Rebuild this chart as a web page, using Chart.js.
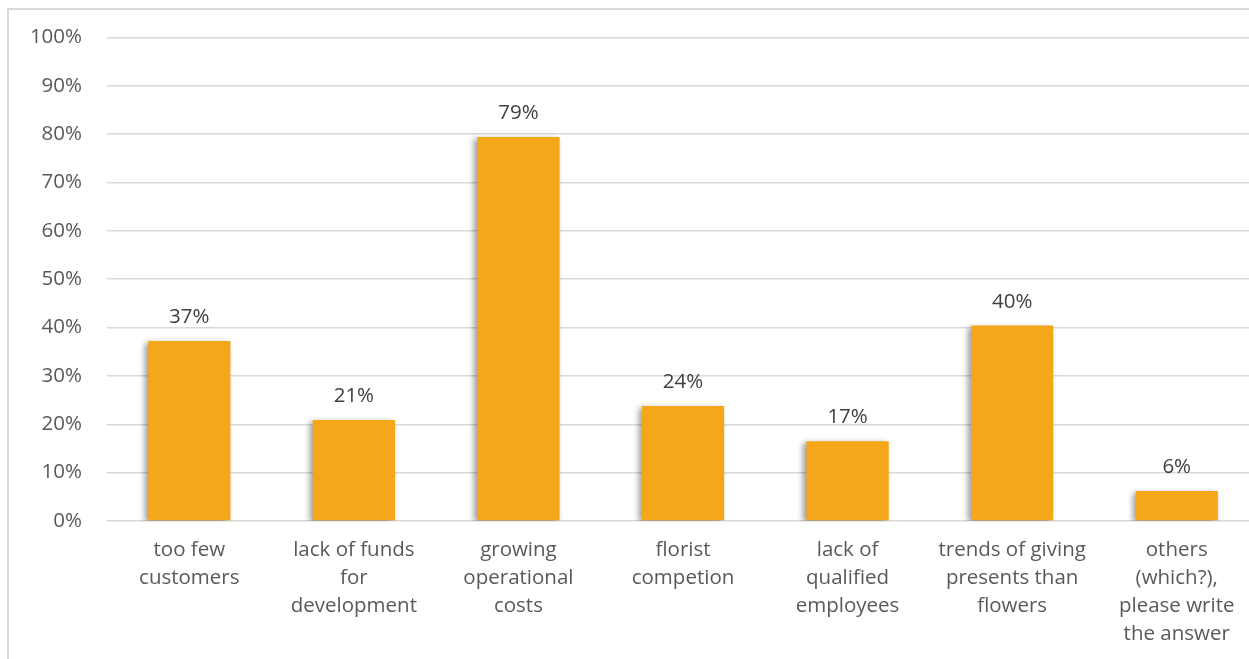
<!DOCTYPE html>
<html>
<head>
<meta charset="utf-8">
<script src="https://cdn.jsdelivr.net/npm/chart.js@4.4.1/dist/chart.umd.min.js"></script>
<style>
  html, body { margin: 0; padding: 0; background: #ffffff; overflow: hidden; width: 1249px; height: 659px; }
  #frame { position: absolute; left: 7px; top: 8px; width: 1300px; height: 700px; border: 2px solid #d9d9d9; box-sizing: border-box; }
  #wrap { position: absolute; left: 0; top: 0; }
</style>
</head>
<body>
<div id="frame"></div>
<div id="wrap"><canvas id="c" width="1270" height="690"></canvas></div>
<script>
// Problems reported by florists (share of respondents, %)
const categories = [
  ['too few', 'customers'],
  ['lack of funds', 'for', 'development'],
  ['growing', 'operational', 'costs'],
  ['florist', 'competion'],
  ['lack of', 'qualified', 'employees'],
  ['trends of giving', 'presents than', 'flowers'],
  ['others', '(which?),', 'please write', 'the answer']
];
const shares = [37.2, 20.9, 79.4, 23.8, 16.5, 40.4, 6.2];
const yTicks = [0, 10, 20, 30, 40, 50, 60, 70, 80, 90, 100];

const FONT = "'Open Sans', 'Noto Sans', sans-serif";
const FONT_SIZE = 20.5;

// soft shadow behind the bars
const barShadow = {
  id: 'barShadow',
  beforeDatasetsDraw(chart) {
    const ctx = chart.ctx;
    ctx.save();
    ctx.shadowColor = 'rgba(0,0,0,0.4)';
    ctx.shadowBlur = 6;
    ctx.shadowOffsetX = -3;
    ctx.shadowOffsetY = 2;
  },
  afterDatasetsDraw(chart) {
    chart.ctx.restore();
  }
};

// value labels above each bar
const valueLabels = {
  id: 'valueLabels',
  afterDatasetsDraw(chart) {
    const ctx = chart.ctx;
    const meta = chart.getDatasetMeta(0);
    ctx.save();
    ctx.font = FONT_SIZE + 'px ' + FONT;
    ctx.fillStyle = '#404040';
    ctx.textAlign = 'center';
    ctx.textBaseline = 'alphabetic';
    meta.data.forEach((bar, i) => {
      const v = chart.data.datasets[0].data[i];
      ctx.fillText(Math.round(v) + '%', bar.x, bar.y - 18);
    });
    ctx.restore();
  }
};

new Chart(document.getElementById('c'), {
  type: 'bar',
  data: {
    labels: categories,
    datasets: [{
      data: shares,
      backgroundColor: '#F5A71A',
      borderWidth: 0,
      categoryPercentage: 1.0,
      barPercentage: 0.5
    }]
  },
  options: {
    responsive: false,
    animation: false,
    layout: { padding: { left: 0, right: 11, top: 37, bottom: 0 } },
    plugins: { legend: { display: false }, tooltip: { enabled: false } },
    scales: {
      x: {
        grid: { display: false, drawTicks: false },
        border: { display: false },
        ticks: {
          color: '#595959',
          font: { family: FONT, size: FONT_SIZE, lineHeight: 28 / FONT_SIZE },
          padding: 15,
          maxRotation: 0,
          autoSkip: false
        },
        afterFit(scale) { scale.height = 690 - 521; }
      },
      y: {
        min: 0,
        max: 100,
        afterBuildTicks(scale) { scale.ticks = yTicks.map(v => ({ value: v })); },
        grid: { color: '#d9d9d9', lineWidth: 1.5, drawTicks: false },
        border: { display: false },
        ticks: {
          color: '#595959',
          font: { family: FONT, size: FONT_SIZE },
          padding: 25,
          callback: v => v + '%'
        },
        afterFit(scale) { scale.width = 107; }
      }
    }
  },
  plugins: [barShadow, valueLabels]
});
</script>
</body>
</html>
